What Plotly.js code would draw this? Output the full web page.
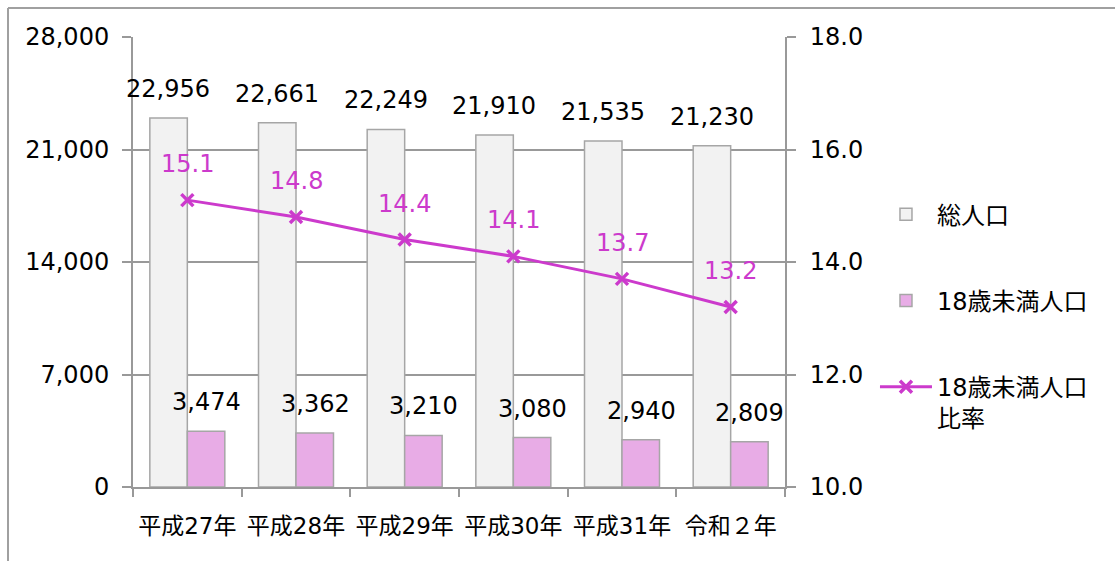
<!DOCTYPE html>
<html><head><meta charset="utf-8">
<script src="https://cdn.plot.ly/plotly-3.0.1.min.js"></script>
<style>body{margin:0;background:#fff}#c{width:1115px;height:561px}</style>
</head><body><div id="c"></div>
<script>
const categories = ['平成27年','平成28年','平成29年','平成30年','平成31年','令和２年'];
const totalPop = [22956,22661,22249,21910,21535,21230];
const under18Pop = [3474,3362,3210,3080,2940,2809];
const under18Ratio = [15.1,14.8,14.4,14.1,13.7,13.2];
const leftTicks = [0,7000,14000,21000,28000];
const rightTicks = [10,12,14,16,18];

const FONT = 'DejaVu Sans, "Noto Sans CJK JP", sans-serif';
const fmt = v => v.toLocaleString('en-US');
const magenta = '#CC3ACC';
const FS = 24;

const traces = [
  {type:'bar', name:'総人口', x:categories, y:totalPop, yaxis:'y', legendgroup:'a',
   marker:{color:'#F2F2F2', line:{color:'#A6A6A6', width:1.5}}, hoverinfo:'skip'},
  {type:'bar', name:'18歳未満人口', x:categories, y:under18Pop, yaxis:'y', legendgroup:'b',
   marker:{color:'#E8ACE6', line:{color:'#A6A6A6', width:1.5}}, hoverinfo:'skip'},
  {type:'scatter', mode:'lines+markers', name:'18歳未満人口<br>比率', x:categories, y:under18Ratio, yaxis:'y2', legendgroup:'c',
   line:{color:magenta, width:3}, marker:{symbol:'x-thin-open', size:12, line:{color:magenta, width:3.5}, color:magenta}, hoverinfo:'skip'}
];

const annotations = [];
categories.forEach((c,i)=>{
  annotations.push({x:c, y:totalPop[i], xref:'x', yref:'y', text:fmt(totalPop[i]), showarrow:false, xshift:-19, yshift:29, font:{size:FS, color:'#000', family:FONT}});
  annotations.push({x:c, y:under18Pop[i], xref:'x', yref:'y', text:fmt(under18Pop[i]), showarrow:false, xshift:19, yshift:29, font:{size:FS, color:'#000', family:FONT}});
  annotations.push({x:c, y:under18Ratio[i], xref:'x', yref:'y2', text:under18Ratio[i].toFixed(1), showarrow:false, yshift:36, font:{size:FS, color:magenta, family:FONT}});
});

const layout = {
  width:1115, height:561,
  margin:{l:133, r:330, t:37, b:74},
  paper_bgcolor:'#fff', plot_bgcolor:'#fff',
  font:{family:FONT, size:FS, color:'#000'},
  barmode:'group', bargap:0.31, bargroupgap:0,
  showlegend:true,
  legend:{x:1.138, y:0.655, xanchor:'left', yanchor:'top', traceorder:'grouped', tracegroupgap:52, valign:'top',
          font:{size:FS, family:FONT, color:'#000'}, itemwidth:52, bgcolor:'rgba(0,0,0,0)'},
  xaxis:{type:'category', range:[-0.5,5.5], autorange:false, showline:true, linecolor:'#999', linewidth:2, ticks:'outside', tickson:'boundaries',
         ticklen:8, tickcolor:'#999', tickwidth:2, showgrid:false, tickfont:{size:23}, tickangle:0, ticklabelstandoff:17,
         automargin:false, fixedrange:true},
  yaxis:{range:[0,28000], tickvals:leftTicks, ticktext:leftTicks.map(fmt), showline:true, linecolor:'#999', linewidth:2,
         ticks:'outside', ticklen:9, tickcolor:'#999', tickwidth:2, showgrid:true, gridcolor:'#999', gridwidth:2,
         zeroline:false, tickfont:{size:FS}, ticklabelstandoff:8, automargin:false},
  yaxis2:{overlaying:'y', side:'right', range:[10,18], tickvals:rightTicks, ticktext:rightTicks.map(v=>v.toFixed(1)),
          showline:true, linecolor:'#999', linewidth:2, ticks:'outside', ticklen:9, tickcolor:'#999', tickwidth:2,
          showgrid:false, zeroline:false, tickfont:{size:FS}, ticklabelstandoff:9, automargin:false},
  annotations:annotations,
  shapes:[
    {type:'line', xref:'paper', yref:'paper', x0:-0.1917, x1:-0.1917, y0:1.0644, y1:-0.3, line:{color:'#A0A0A0', width:2}},
    {type:'line', xref:'paper', yref:'paper', x0:-0.1917, x1:1.6, y0:1.0644, y1:1.0644, line:{color:'#A0A0A0', width:2}}
  ]
};
Plotly.newPlot('c', traces, layout, {displayModeBar:false, staticPlot:true});
</script></body></html>
